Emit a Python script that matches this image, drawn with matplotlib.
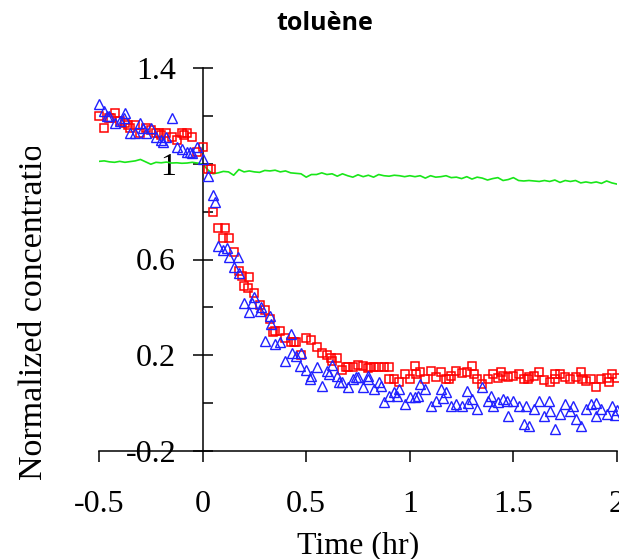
import numpy as np
import matplotlib
matplotlib.use("Agg")
import matplotlib.pyplot as plt
from matplotlib.ticker import FixedLocator, FixedFormatter
from matplotlib.transforms import Bbox, TransformedBbox

plt.rcParams['axes.unicode_minus'] = False

# sampling grid (hr), one reading every 0.025 hr from -0.5 to 2.0
t = np.round(np.arange(-0.5, 2.0001, 0.025), 3)

green = [1.010, 1.012, 1.008, 1.006, 1.010, 1.006, 1.009, 1.012, 1.018, 1.008,
         0.998, 1.006, 1.004, 1.007, 1.003, 1.004, 1.002, 1.003, 1.006, 1.003,
         0.998, 0.975, 0.958, 0.962, 0.968, 0.966, 0.952, 0.976, 0.966, 0.970,
         0.966, 0.964, 0.972, 0.970, 0.973, 0.966, 0.970, 0.962, 0.960, 0.958,
         0.944, 0.955, 0.955, 0.962, 0.955, 0.958, 0.948, 0.958, 0.950, 0.944,
         0.954, 0.946, 0.952, 0.944, 0.955, 0.950, 0.948, 0.952, 0.950, 0.946,
         0.950, 0.946, 0.950, 0.940, 0.950, 0.944, 0.946, 0.950, 0.942, 0.944,
         0.938, 0.946, 0.936, 0.944, 0.940, 0.932, 0.938, 0.942, 0.930, 0.934,
         0.942, 0.930, 0.928, 0.930, 0.928, 0.926, 0.930, 0.926, 0.932, 0.922,
         0.930, 0.926, 0.930, 0.920, 0.924, 0.920, 0.924, 0.918, 0.928, 0.920,
         0.915]

red = [1.20, 1.15, 1.19, 1.21, 1.18, 1.17, 1.15, 1.16, 1.13, 1.15,
       1.14, 1.13, 1.12, 1.13, 1.11, 1.10, 1.13, 1.13, 1.11, 1.05,
       1.07, 0.98, 0.80, 0.73, 0.69, 0.69, 0.63, 0.55, 0.49, 0.525,
       0.46, 0.41, 0.39, 0.35, 0.30, 0.30, 0.27, 0.255, 0.255, 0.20,
       0.27, 0.265, 0.235, 0.21, 0.20, 0.175, 0.19, 0.14, 0.15, 0.15,
       0.16, 0.155, 0.145, 0.15, 0.15, 0.15, 0.10, 0.10, 0.09, 0.12,
       0.10, 0.155, 0.13, 0.10, 0.133, 0.11, 0.13, 0.10, 0.113, 0.133,
       0.125, 0.13, 0.154, 0.10, 0.08, 0.10, 0.12, 0.105, 0.113, 0.108,
       0.115, 0.12, 0.10, 0.108, 0.115, 0.13, 0.095, 0.088, 0.10, 0.12,
       0.11, 0.10, 0.11, 0.13, 0.092, 0.10, 0.067, 0.10, 0.105, 0.12,
       0.105]

blue = [1.25, 1.22, 1.20, 1.17, 1.18, 1.21, 1.13, 1.13, 1.17, 1.13,
        1.15, 1.11, 1.10, 1.11, 1.19, 1.07, 1.06, 1.05, 1.045, 1.07,
        1.02, 0.95, 0.87, 0.655, 0.64, 0.61, 0.57, 0.545, 0.42, 0.38,
        0.445, 0.383, 0.258, 0.362, 0.246, 0.254, 0.175, 0.287, 0.196, 0.21,
        0.14, 0.113, 0.15, 0.071, 0.133, 0.16, 0.113, 0.088, 0.067, 0.10,
        0.108, 0.067, 0.113, 0.058, 0.088, 0.004, 0.029, 0.046, 0.058, -0.004,
        0.025, 0.025, 0.08, 0.058, -0.012, 0.008, 0.058, 0.046, -0.012, -0.004,
        -0.012, 0.05, 0.017, -0.025, 0.067, 0.008, -0.012, 0.004, 0.017, -0.054,
        0.008, -0.012, -0.088, -0.096, -0.025, 0.008, -0.054, -0.033, -0.108, -0.046,
        -0.004, -0.033, -0.067, -0.096, -0.025, -0.004, -0.054, -0.025, -0.046, -0.01,
        -0.03]

# extra readings between grid points
red_t2 = [-0.44, -0.36, -0.21, -0.09, 0.04, 0.11, 0.19, 0.22, 0.34, 0.44, 0.62,
          0.69, 0.81, 0.90, 1.03, 1.19, 1.31, 1.44, 1.57, 1.70, 1.83, 1.96]
red_y2 = [1.19, 1.16, 1.13, 1.12, 0.98, 0.73, 0.53, 0.48, 0.296, 0.254, 0.19,
          0.15, 0.15, 0.15, 0.12, 0.10, 0.12, 0.13, 0.10, 0.12, 0.10, 0.09]
blue_t2 = [-0.46, -0.38, -0.29, -0.19, -0.06, 0.06, 0.12, 0.17, 0.24, 0.28,
           0.33, 0.43, 0.47, 0.52, 0.61, 0.66, 0.74, 0.80, 0.86, 0.94, 1.04,
           1.16, 1.28, 1.39, 1.47, 1.56, 1.67, 1.79, 1.90, 1.99]
blue_y2 = [1.20, 1.19, 1.15, 1.09, 1.05, 0.84, 0.65, 0.61, 0.417, 0.40,
           0.33, 0.21, 0.154, 0.10, 0.12, 0.09, 0.11, 0.10, 0.07, 0.03, 0.03,
           0.02, 0.00, 0.03, 0.01, -0.01, 0.01, -0.01, 0.00, -0.05]

xticks = [-0.5, 0, 0.5, 1, 1.5, 2]
xlabels = ['-0.5', '0', '0.5', '1', '1.5', '2']
yticks = [-0.2, 0.2, 0.6, 1.0, 1.4]
ylabels = ['-0.2', '0.2', '0.6', '1', '1.4']
yminor = [0.0, 0.4, 0.8, 1.2]

serif = 'Liberation Serif'

fig = plt.figure(figsize=(6.19, 5.59), dpi=100)
ax = fig.add_axes([99 / 619, 1 - 451 / 559, 518 / 619, 383 / 559])

ax.plot(t, green, color='#19e619', lw=1.2, zorder=2)
ax.plot(np.concatenate([t, red_t2]), np.concatenate([red, red_y2]), ls='none',
        marker='s', ms=6.0, mfc='none', mec='#ff0000', mew=1.1, clip_on=False, zorder=3)
ax.plot(np.concatenate([t, blue_t2]), np.concatenate([blue, blue_y2]), ls='none',
        marker='^', ms=6.8, mfc='none', mec='#2020ff', mew=1.0, clip_on=False, zorder=4)

ax.set_xlim(-0.5, 2.0)
ax.set_ylim(-0.2, 1.4)

for s in ['top', 'right']:
    ax.spines[s].set_visible(False)
ax.spines['left'].set_position(('data', 0))
for s in ['left', 'bottom']:
    ax.spines[s].set_linewidth(1.1)

ax.xaxis.set_major_locator(FixedLocator(xticks))
ax.xaxis.set_major_formatter(FixedFormatter(xlabels))
ax.yaxis.set_major_locator(FixedLocator(yticks))
ax.yaxis.set_major_formatter(FixedFormatter(ylabels))
ax.yaxis.set_minor_locator(FixedLocator(yminor))

ax.tick_params(axis='x', direction='out', length=8, width=1.1, pad=20,
               labelsize=23, labelfontfamily=serif)
ax.tick_params(axis='y', which='major', direction='inout', length=14, width=1.1,
               pad=12, labelsize=23, labelfontfamily=serif)
ax.tick_params(axis='y', which='minor', direction='in', length=7, width=1.1)

ax.set_xlabel('Time (hr)', fontsize=23, family=serif, labelpad=9)

ylab = fig.text(34 / 619, 1 - 480 / 559, 'Normalized concentration', rotation=90,
                ha='center', va='bottom', fontsize=24.5, family=serif)
ylab.set_clip_box(TransformedBbox(Bbox([[0, 0], [1, 1 - 147 / 559]]), fig.transFigure))
ylab.set_clip_on(True)

fig.text(325 / 619, 1 - 30 / 559, 'toluène', ha='center', va='baseline',
         fontsize=18, fontweight='bold', family='Open Sans')

fig.savefig('out.png', dpi=100)
